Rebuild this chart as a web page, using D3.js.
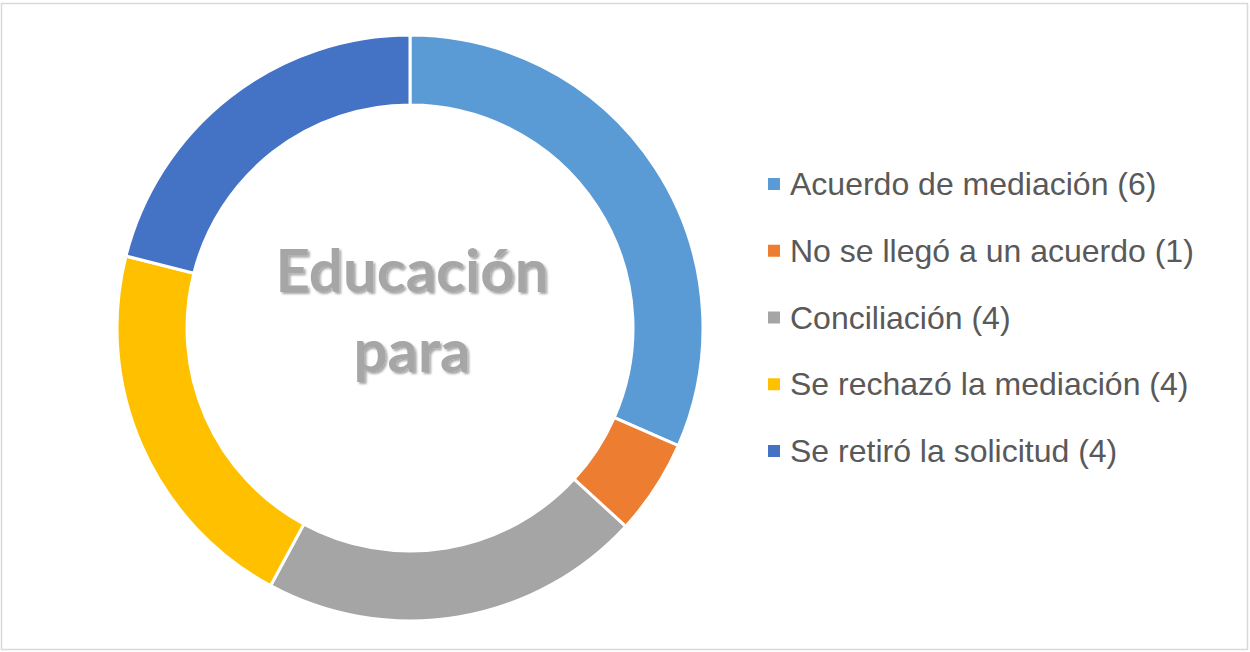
<!DOCTYPE html>
<html>
<head>
<meta charset="utf-8">
<script src="https://cdn.jsdelivr.net/npm/d3@7/dist/d3.min.js"></script>
<style>
  body { margin: 0; background: #fff; }
</style>
</head>
<body>
<div id="chart"></div>
<script>
// Data
const categories = ["Acuerdo de mediación", "No se llegó a un acuerdo", "Conciliación", "Se rechazó la mediación", "Se retiró la solicitud"];
const values = [6, 1, 4, 4, 4];
const colors = ["#5B9BD5", "#ED7D31", "#A5A5A5", "#FFC000", "#4472C4"];
const centerLines = ["Educación", "para"];

const width = 1250, height = 652;
const cx = 410, cy = 328;
const outerR = 293, innerR = 223;

const svg = d3.select("#chart")
  .append("svg")
  .attr("width", width)
  .attr("height", height);

// chart border
svg.append("rect")
  .attr("x", 1.5)
  .attr("y", 3.5)
  .attr("width", 1246)
  .attr("height", 646)
  .attr("fill", "#fff")
  .attr("stroke", "#d9d9d9")
  .attr("stroke-width", 1.5);

const data = categories.map((c, i) => ({ name: c, value: values[i], color: colors[i] }));

const pie = d3.pie()
  .value(d => d.value)
  .sort(null);

const arc = d3.arc()
  .innerRadius(innerR)
  .outerRadius(outerR);

const g = svg.append("g")
  .attr("transform", `translate(${cx},${cy})`);

g.selectAll("path")
  .data(pie(data))
  .enter()
  .append("path")
  .attr("d", arc)
  .attr("fill", d => d.data.color)
  .attr("stroke", "#fff")
  .attr("stroke-width", 3);

// shadow for center text
const defs = svg.append("defs");
const filter = defs.append("filter").attr("id", "shadow")
  .attr("x", "-10%").attr("y", "-10%").attr("width", "120%").attr("height", "130%");
filter.append("feDropShadow")
  .attr("dx", 2).attr("dy", 2).attr("stdDeviation", 1.2)
  .attr("flood-color", "#000").attr("flood-opacity", 0.35);

g.selectAll("text.center")
  .data(centerLines)
  .enter()
  .append("text")
  .attr("class", "center")
  .attr("x", 2)
  .attr("y", (d, i) => -36 + i * 80)
  .attr("text-anchor", "middle")
  .attr("font-family", "Lato, 'Open Sans', sans-serif")
  .attr("font-weight", "bold")
  .attr("font-size", "60px")
  .attr("fill", "#a6a6a6")
  .attr("filter", "url(#shadow)")
  .text(d => d);

// legend
const legend = svg.append("g")
  .attr("transform", "translate(768, 184)");

const row = legend.selectAll("g")
  .data(data)
  .enter()
  .append("g")
  .attr("transform", (d, i) => `translate(0, ${i * 66.75})`);

row.append("rect")
  .attr("x", 0)
  .attr("y", -6)
  .attr("width", 12)
  .attr("height", 12)
  .attr("fill", d => d.color);

row.append("text")
  .attr("x", 22)
  .attr("y", 11)
  .attr("font-family", "'Liberation Sans', Arial, sans-serif")
  .attr("font-size", "32px")
  .attr("fill", "#595959")
  .text(d => `${d.name} (${d.value})`);
</script>
</body>
</html>
